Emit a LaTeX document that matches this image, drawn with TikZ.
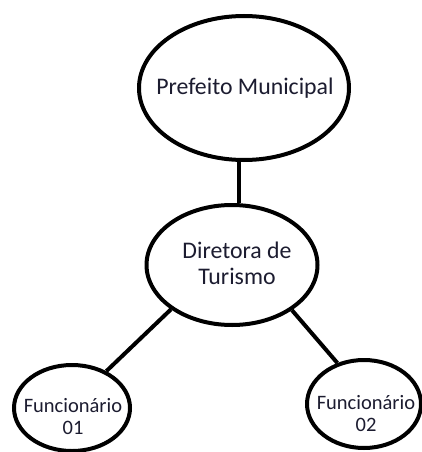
\documentclass[tikz,border=0pt]{standalone}
\usepackage{fontspec}
\setmainfont{Carlito}
\usetikzlibrary{shapes.geometric}
\definecolor{textc}{RGB}{28,28,48}
\tikzset{
  oval/.style={draw=black, line width=4pt, ellipse, inner sep=0pt, fill=white},
  bigtext/.style={text=textc, font=\fontsize{23.8}{26}\selectfont, align=center, inner sep=0pt},
  smalltext/.style={text=textc, font=\fontsize{20.5}{22}\selectfont, align=center, inner sep=0pt},
  link/.style={draw=black, line width=4pt}
}
\begin{document}
\begin{tikzpicture}[x=1pt,y=-1pt]
\useasboundingbox (0,0) rectangle (422,452);
\fill[white] (0,0) rectangle (422,452);
\node[oval, minimum width=210pt, minimum height=144pt] (top) at (244,88) {};
\node[oval, minimum width=171pt, minimum height=120pt] (mid) at (232,265) {};
\node[oval, minimum width=116pt, minimum height=86pt] (left) at (72,408) {};
\node[oval, minimum width=114pt, minimum height=88pt] (right) at (364,404) {};
\draw[link] ([xshift=-5pt]top.south) -- ([xshift=7pt]mid.north);
\draw[link] (mid.216) -- (left.47.5);
\draw[link] (mid.323) -- (right.123);
\node[bigtext] (ttop) at (245,88) {Prefeito Municipal};
\node[bigtext] (tmid) at (237,263) {Diretora de\\Turismo};
\node[smalltext] (tleft) at (73,417) {Funcionário\\01};
\node[smalltext] (tright) at (366,414) {Funcionário\\02};
\end{tikzpicture}
\end{document}
